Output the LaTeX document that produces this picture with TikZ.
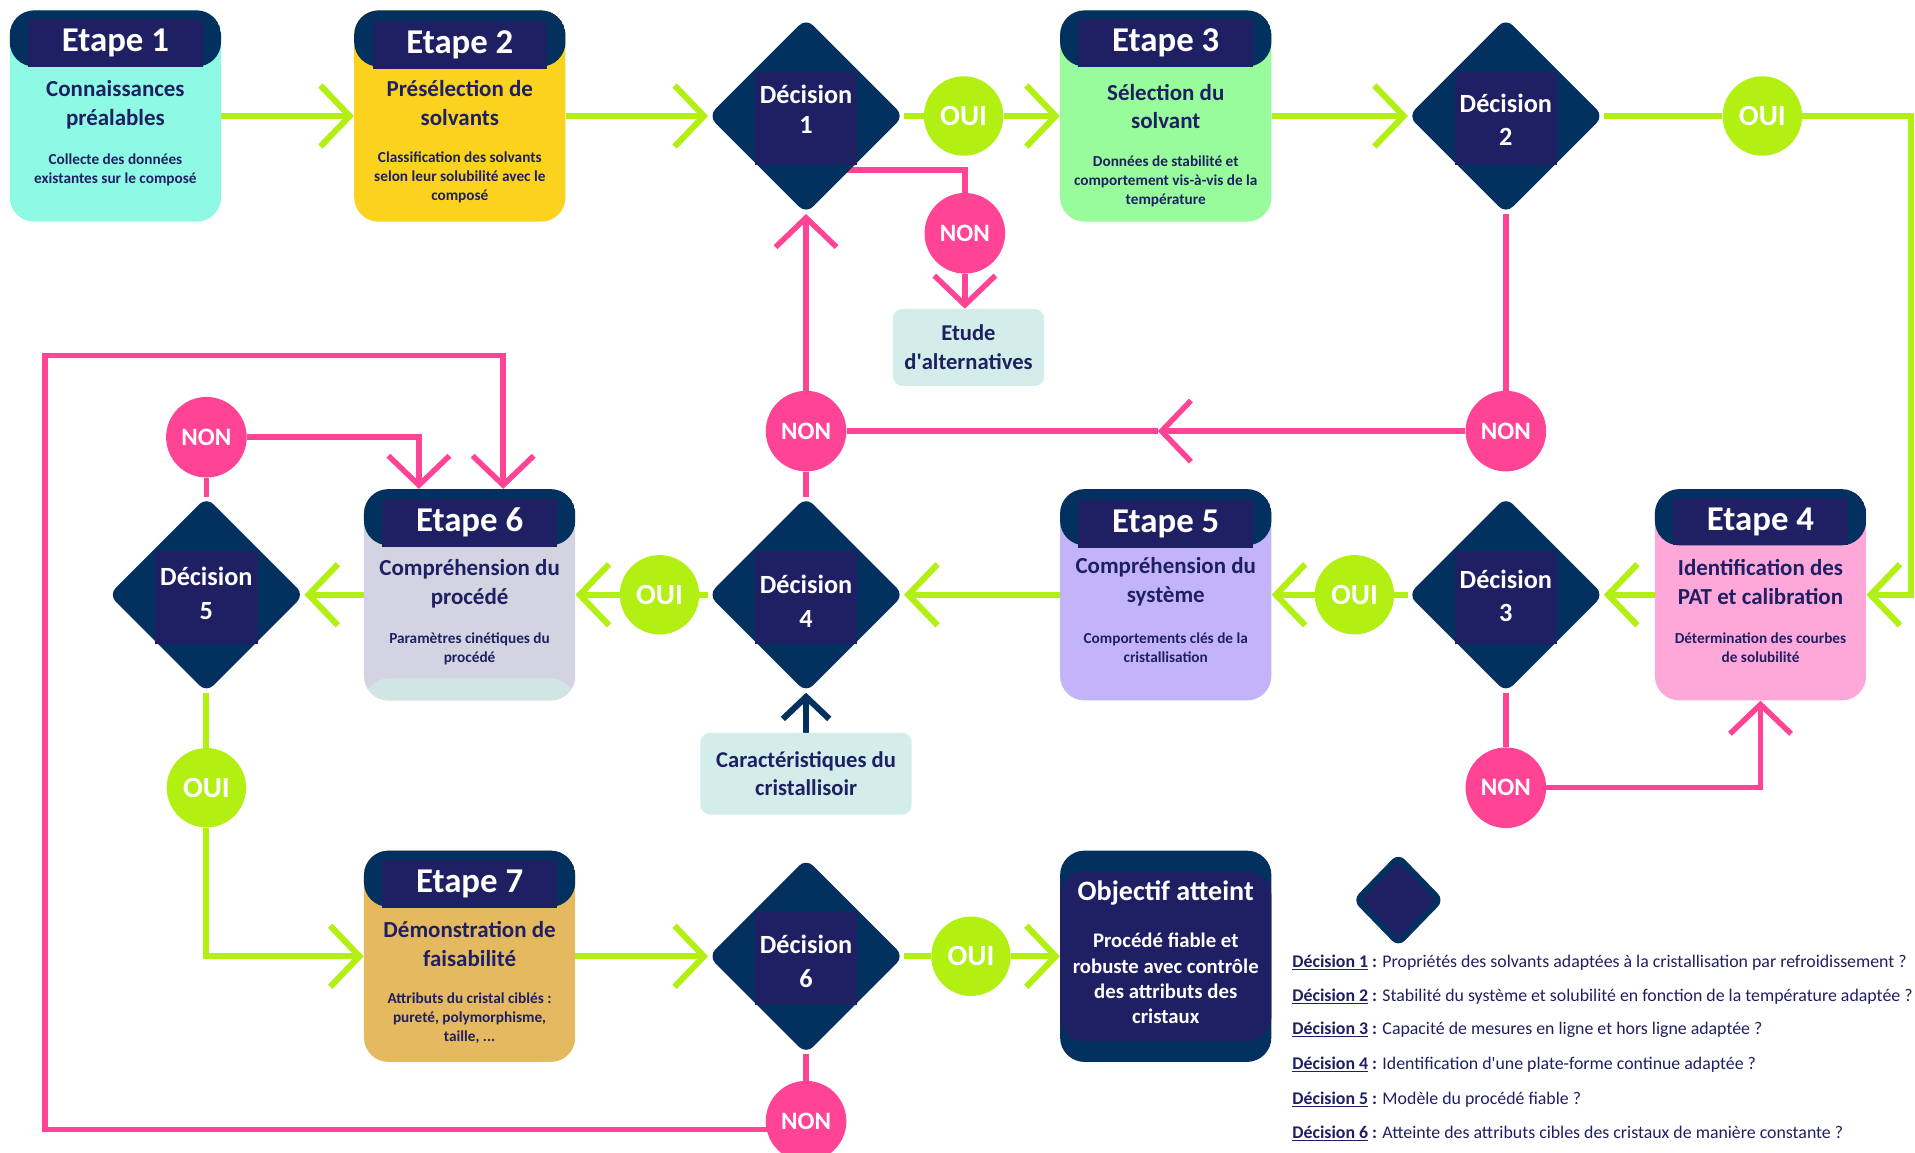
\documentclass[tikz,border=0pt]{standalone}
\usepackage{fontspec}
\setmainfont{Carlito}
\usepackage{tikz}
\usetikzlibrary{arrows.meta}
\usetikzlibrary{shapes.geometric}
\usetikzlibrary{backgrounds}
\definecolor{navy}{HTML}{02305F}
\definecolor{indigo}{HTML}{1F1F63}
\definecolor{lime}{HTML}{B2EF12}
\definecolor{rose}{HTML}{FF4496}
\definecolor{turquoise}{HTML}{8EFAE3}
\definecolor{jaune}{HTML}{FBD21D}
\definecolor{vert}{HTML}{98FC9C}
\definecolor{rosec}{HTML}{FDA8D8}
\definecolor{lavande}{HTML}{C3B4FA}
\definecolor{gris}{HTML}{D3D3E1}
\definecolor{grisb}{HTML}{D1E5E5}
\definecolor{ocre}{HTML}{E5B95F}
\definecolor{pale}{HTML}{D3EDEA}

\tikzset{
  etape/.style={rounded corners=20pt,minimum width=173pt,minimum height=173pt,inner sep=0pt,
    path picture={\fill[navy] (path picture bounding box.north west) rectangle ([yshift=-46pt]path picture bounding box.north east);}},
  titre/.style={fill=indigo,text=white,minimum width=143pt,minimum height=39pt,inner sep=0pt,font=\fontsize{28.5}{30}\selectfont\bfseries},
  soustitre/.style={text=indigo,align=center,inner sep=0pt,font=\fontsize{18.8}{23.5}\selectfont\bfseries},
  detail/.style={text=indigo,align=center,inner sep=0pt,font=\fontsize{12.5}{15.5}\selectfont\bfseries},
  dec/.style={diamond,fill=navy,rounded corners=8pt,minimum width=160pt,minimum height=160pt,inner sep=0pt},
  decrect/.style={fill=indigo,minimum width=84pt,minimum height=76pt,inner sep=0pt},
  dectext/.style={text=white,align=center,inner sep=0pt,font=\fontsize{21.5}{27.5}\selectfont\bfseries},
  oui/.style={circle,fill=lime,text=white,minimum size=65pt,inner sep=0pt,font=\fontsize{24}{26}\selectfont\bfseries},
  non/.style={circle,fill=rose,text=white,minimum size=66pt,inner sep=0pt,font=\fontsize{20.5}{24}\selectfont\bfseries},
  info/.style={fill=pale,rounded corners=8pt,text=indigo,align=center,inner sep=0pt,font=\fontsize{18.5}{23.5}\selectfont\bfseries},
  legende/.style={anchor=west,text=indigo,inner sep=0pt,font=\fontsize{14.6}{16}\selectfont},
  chev/.tip={Straight Barb[length=24pt,width=50pt]},
  vline/.style={draw=lime,line width=5pt},
  pline/.style={draw=rose,line width=4.5pt},
}

\begin{document}
\begin{tikzpicture}[x=1pt,y=-1pt]
  \useasboundingbox (0,0) rectangle (1568,944);

  % ligne 1
  \node[etape,fill=turquoise] (e1) at (94.5,95) {};
  \node[titre,anchor=north] (e1t) at ([yshift=-7pt]e1.north) {Etape 1};
  \node[soustitre] (e1s) at ([yshift=-77.5pt]e1.north) {Connaissances\\préalables};
  \node[detail] (e1d) at ([yshift=-131pt]e1.north) {Collecte des données\\existantes sur le composé};

  \node[etape,fill=jaune] (e2) at (376.5,95) {};
  \node[titre,anchor=north] (e2t) at ([yshift=-9pt]e2.north) {Etape 2};
  \node[soustitre] (e2s) at ([yshift=-76pt]e2.north) {Présélection de\\solvants};
  \node[detail] (e2d) at ([yshift=-137pt]e2.north) {Classification des solvants\\selon leur solubilité avec le\\composé};

  \node[dec] (d1) at (660,95) {};
  \node[decrect] (d1r) at ([yshift=-2pt]d1.center) {};
  \node[dectext,font=\fontsize{21.5}{25}\selectfont\bfseries] (d1t) at ([yshift=5.5pt]d1.center) {Décision\\1};
  \node[oui] (oui1) at (789,95) {OUI};
  \node[non] (non1) at (790,191) {NON};
  \node[info,minimum width=124pt,minimum height=63pt] (alt) at (793,284.5) {Etude\\d\textquotesingle alternatives};

  \node[etape,fill=vert] (e3) at (954.5,95) {};
  \node[titre,anchor=north] (e3t) at ([yshift=-7pt]e3.north) {Etape 3};
  \node[soustitre] (e3s) at ([yshift=-79pt]e3.north) {Sélection du\\solvant};
  \node[detail] (e3d) at ([yshift=-140pt]e3.north) {Données de stabilité et\\comportement vis-à-vis de la\\température};

  \node[dec] (d2) at (1233,95) {};
  \node[decrect] (d2r) at ([yshift=-2pt]d2.center) {};
  \node[dectext] (d2t) at ([yshift=-3pt]d2.center) {Décision\\2};
  \node[oui] (oui2) at (1443,95) {OUI};
  \coordinate (k1) at (1565,0);

  % ligne 2
  \node[non] (non4) at (660,353) {NON};
  \node[non] (non2) at (1233,353) {NON};
  \coordinate (m2) at (948,353);

  \node[etape,fill=rosec] (e4) at (1441.5,487) {};
  \node[titre,anchor=north] (e4t) at ([yshift=-7pt]e4.north) {Etape 4};
  \node[soustitre] (e4s) at ([yshift=-76pt]e4.north) {Identification des\\PAT et calibration};
  \node[detail] (e4d) at ([yshift=-130pt]e4.north) {Détermination des courbes\\de solubilité};

  \node[dec] (d3) at (1233,487) {};
  \node[decrect] (d3r) at ([yshift=-2pt]d3.center) {};
  \node[dectext] (d3t) at ([yshift=-1pt]d3.center) {Décision\\3};
  \node[oui] (oui3) at (1109,487) {OUI};
  \node[non] (non3) at (1233,645) {NON};

  \node[etape,fill=lavande] (e5) at (954.5,487) {};
  \node[titre,anchor=north] (e5t) at ([yshift=-9pt]e5.north) {Etape 5};
  \node[soustitre] (e5s) at ([yshift=-76pt]e5.north) {Compréhension du\\système};
  \node[detail] (e5d) at ([yshift=-130pt]e5.north) {Comportements clés de la\\cristallisation};

  \node[dec] (d4) at (660,487) {};
  \node[decrect] (d4r) at ([yshift=-2pt]d4.center) {};
  \node[dectext] (d4t) at ([yshift=-5.5pt]d4.center) {Décision\\4};
  \node[info,minimum width=173pt,minimum height=67pt] (cara) at (660,633.5) {Caractéristiques du\\cristallisoir};
  \node[oui] (oui4) at (540,487) {OUI};

  \node[etape,fill=gris,path picture={
      \fill[navy] (path picture bounding box.north west) rectangle ([yshift=-46pt]path picture bounding box.north east);
      \fill[grisb] ([yshift=18pt]path picture bounding box.south west) rectangle (path picture bounding box.south east);}] (e6) at (384.5,487) {};
  \node[titre,anchor=north] (e6t) at ([yshift=-8pt]e6.north) {Etape 6};
  \node[soustitre] (e6s) at ([yshift=-77.5pt]e6.north) {Compréhension du\\procédé};
  \node[detail] (e6d) at ([yshift=-131pt]e6.north) {Paramètres cinétiques du\\procédé};

  \node[dec] (d5) at (169,487) {};
  \node[decrect] (d5r) at ([yshift=-2pt]d5.center) {};
  \node[dectext] (d5t) at ([yshift=1pt]d5.center) {Décision\\5};
  \node[non] (non5) at (169,358) {NON};
  \node[oui] (oui5) at (169,645) {OUI};
  \coordinate (k2) at (343,0);
  \coordinate (k3) at (37,291);
  \coordinate (k4) at (412,0);

  % ligne 3
  \node[etape,fill=ocre] (e7) at (384.5,783) {};
  \node[titre,anchor=north] (e7t) at ([yshift=-8pt]e7.north) {Etape 7};
  \node[soustitre] (e7s) at ([yshift=-76.5pt]e7.north) {Démonstration de\\faisabilité};
  \node[detail] (e7d) at ([yshift=-137.5pt]e7.north) {Attributs du cristal ciblés :\\pureté, polymorphisme,\\taille, ...};

  \node[dec] (d6) at (660,783) {};
  \node[decrect] (d6r) at ([yshift=-2pt]d6.center) {};
  \node[dectext] (d6t) at ([yshift=-4pt]d6.center) {Décision\\6};
  \node[oui] (oui6) at (795,783) {OUI};
  \node[non] (non6) at (660,918) {NON};

  \node[etape,fill=navy,path picture={
      \fill[indigo] ([yshift=-17pt]path picture bounding box.north west) rectangle ([yshift=17pt]path picture bounding box.south east);}] (obj) at (954.5,783) {};
  \node[text=white,inner sep=0pt,font=\fontsize{23}{26}\selectfont\bfseries] (objt) at ([yshift=-35pt]obj.north) {Objectif atteint};
  \node[text=white,align=center,inner sep=0pt,font=\fontsize{17}{20.7}\selectfont\bfseries] (objd) at ([yshift=-105pt]obj.north) {Procédé fiable et\\robuste avec contrôle\\des attributs des\\cristaux};

  % legende
  \node[dec,minimum width=70pt,minimum height=72pt,rounded corners=5pt,fill=indigo,draw=navy,line width=5pt] (leg) at (1145,737) {};
  \node[legende] (q1) at (1058,788) {\textbf{\underline{Décision 1} :} Propriétés des solvants adaptées à la cristallisation par refroidissement ?};
  \node[legende] (q2) at (1058,816) {\textbf{\underline{Décision 2} :} Stabilité du système et solubilité en fonction de la température adaptée ?};
  \node[legende] (q3) at (1058,843) {\textbf{\underline{Décision 3} :} Capacité de mesures en ligne et hors ligne adaptée ?};
  \node[legende] (q4) at (1058,872) {\textbf{\underline{Décision 4} :} Identification d\textquotesingle une plate-forme continue adaptée ?};
  \node[legende] (q5) at (1058,900) {\textbf{\underline{Décision 5} :} Modèle du procédé fiable ?};
  \node[legende] (q6) at (1058,928) {\textbf{\underline{Décision 6} :} Atteinte des attributs cibles des cristaux de manière constante ?};

  \begin{pgfonlayer}{background}
    % oui
    \draw[vline,-chev] (e1) -- (e2);
    \draw[vline,-chev] (e2) -- (d1);
    \draw[vline] (d1) -- (oui1);
    \draw[vline,-chev] (oui1) -- (e3);
    \draw[vline,-chev] (e3) -- (d2);
    \draw[vline] (d2) -- (oui2);
    \draw[vline,-chev] (oui2) -- (oui2 -| k1) |- (e4);
    \draw[vline,-chev] (e4) -- (d3);
    \draw[vline] (d3) -- (oui3);
    \draw[vline,-chev] (oui3) -- (e5);
    \draw[vline,-chev] (e5) -- (d4);
    \draw[vline] (d4) -- (oui4);
    \draw[vline,-chev] (oui4) -- (e6);
    \draw[vline,-chev] (e6) -- (d5);
    \draw[vline] (d5) -- (oui5);
    \draw[vline,-chev] (oui5) |- (e7);
    \draw[vline,-chev] (e7) -- (d6);
    \draw[vline] (d6) -- (oui6);
    \draw[vline,-chev] (oui6) -- (obj);
    \draw[navy,line width=5pt,-{Straight Barb[length=18pt,width=38pt]}] (cara) -- (d4);
    % non
    \draw[pline] ([yshift=-44pt]d1.center) -| (non1);
    \draw[pline,-chev] (non1) -- (non1 |- alt.north);
    \draw[pline] (d2) -- (non2);
    \draw[pline,-chev] (non2) -- (m2);
    \draw[pline] (m2) -- (non4);
    \draw[pline] (d4) -- (non4);
    \draw[pline,-chev] (non4) -- (d1);
    \draw[pline] (d3) -- (non3);
    \draw[pline,-chev] (non3) -| (e4);
    \draw[pline] (d5) -- (non5);
    \draw[pline,-chev] (non5) -| (k2 |- e6.north);
    \draw[pline] (d6) -- (non6);
    \draw[pline,-chev] ([yshift=-7pt]non6.center) -| (k3) -| (k4 |- e6.north);
  \end{pgfonlayer}
\end{tikzpicture}
\end{document}
